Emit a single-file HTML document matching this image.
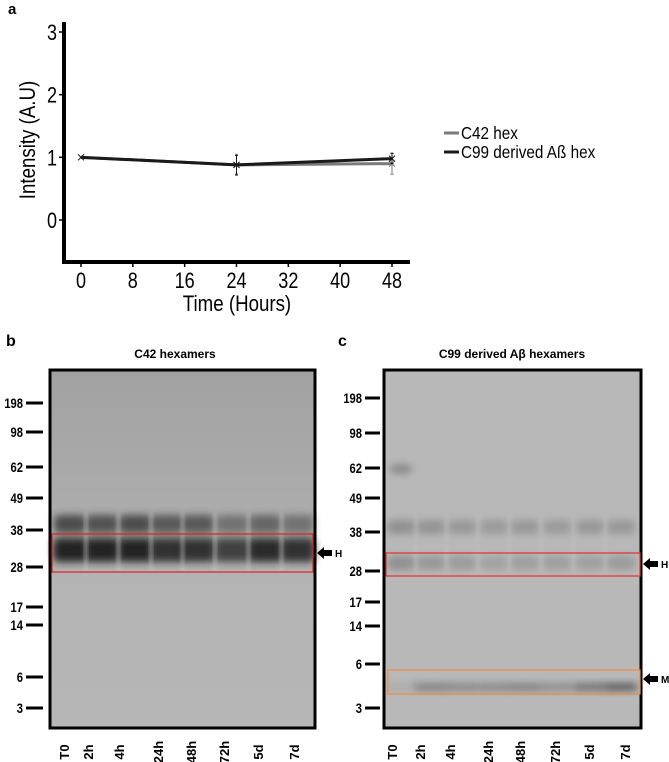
<!DOCTYPE html>
<html><head><meta charset="utf-8">
<style>
html,body{margin:0;padding:0;background:#fff;}
svg{display:block;font-family:"Liberation Sans",sans-serif;}
.b{font-weight:bold;}
</style></head>
<body>
<svg id="fig" width="669" height="762" viewBox="0 0 669 762">
<defs>
<filter id="blur3" x="-30%" y="-80%" width="160%" height="260%"><feGaussianBlur stdDeviation="4"/></filter>
<filter id="blur2" x="-50%" y="-50%" width="200%" height="200%"><feGaussianBlur stdDeviation="2"/></filter>
<linearGradient id="topg" x1="0" y1="0" x2="0" y2="1">
<stop offset="0" stop-color="#a2a2a2"/><stop offset="0.4" stop-color="#acacac"/><stop offset="0.6" stop-color="#b4b4b4"/><stop offset="1" stop-color="#b6b6b6"/>
</linearGradient>
</defs>
<text x="8" y="14" class="b" font-size="15">a</text>
<g id="chart"></g>
<text x="6" y="346" class="b" font-size="16">b</text>
<text x="175" y="358" class="b" font-size="12" text-anchor="middle">C42 hexamers</text>
<g id="blotb"></g>
<text x="338" y="346" class="b" font-size="16">c</text>
<text x="512" y="358" class="b" font-size="12" text-anchor="middle">C99 derived Aβ hexamers</text>
<g id="blotc"></g>
</svg>
<script>
const NS="http://www.w3.org/2000/svg";
function mk(p,tag,at,txt){const e=document.createElementNS(NS,tag);for(const k in at)e.setAttribute(k,at[k]);if(txt!==undefined)e.textContent=txt;p.appendChild(e);return e;}

// ---- chart data ----
const times=[0,24,48];
const c42Values=[1,0.88,0.9];
const c42Err=[0,0.17,0.17];
const c99Values=[1,0.88,0.98];
const c99Err=[0,0.15,0.08];
const xTicks=[0,8,16,24,32,40,48];
const yTicks=[0,1,2,3];

const xS=v=>81+(392-81)*v/48;
const yS=v=>220-(220-32)*v/3;
const g=document.getElementById('chart');
let e;
e=mk(g,'line',{x1:64,y1:22,x2:64,y2:264,stroke:'#000','stroke-width':4});


e=mk(g,'line',{x1:62,y1:262,x2:410,y2:262,stroke:'#000','stroke-width':4});


yTicks.forEach(t=>{
 mk(g,'line',{x1:59,y1:yS(t),x2:64,y2:yS(t),stroke:'#000','stroke-width':1.5});
 e=mk(g,'text',{x:57,y:yS(t)+8,'font-size':22,'text-anchor':'end',transform:`translate(57 0) scale(0.82 1) translate(-57 0)`},String(t));
 
 
});
xTicks.forEach(t=>{
 mk(g,'line',{x1:xS(t),y1:262,x2:xS(t),y2:267,stroke:'#000','stroke-width':1.5});
 e=mk(g,'text',{x:xS(t),y:288,'font-size':22,'text-anchor':'middle',transform:`translate(${xS(t)} 0) scale(0.82 1) translate(${-xS(t)} 0)`},String(t));
 
 
});
e=mk(g,'text',{x:237,y:311,'font-size':22,'text-anchor':'middle',transform:'translate(237 0) scale(0.85 1) translate(-237 0)'},'Time (Hours)');


e=mk(g,'text',{x:0,y:0,'font-size':22,'text-anchor':'middle',transform:'translate(35 140) rotate(-90) scale(0.85 1)'},'Intensity (A.U)');



function series(vals,errs,col,w,name){
 const pts=times.map((t,i)=>xS(t)+','+yS(vals[i])).join(' ');
 e=mk(g,'polyline',{points:pts,fill:'none',stroke:col,'stroke-width':w});
 
 
 times.forEach((t,i)=>{
  const x=xS(t),y=yS(vals[i]);
  if(errs[i]>0){
   mk(g,'line',{x1:x,y1:yS(vals[i]+errs[i]),x2:x,y2:yS(vals[i]-errs[i]),stroke:col,'stroke-width':1});
   mk(g,'line',{x1:x-1.5,y1:yS(vals[i]+errs[i]),x2:x+1.5,y2:yS(vals[i]+errs[i]),stroke:col,'stroke-width':1});
   mk(g,'line',{x1:x-1.5,y1:yS(vals[i]-errs[i]),x2:x+1.5,y2:yS(vals[i]-errs[i]),stroke:col,'stroke-width':1});
  }
  e=mk(g,'path',{d:`M${x-3} ${y-3}L${x+3} ${y+3}M${x-3} ${y+3}L${x+3} ${y-3}`,stroke:col,'stroke-width':1});
  
  
 });
}
series(c42Values,c42Err,'#7a7a7a',3,'c42');
series(c99Values,c99Err,'#1a1a1a',3,'c99');
mk(g,'line',{x1:444,y1:133,x2:459,y2:133,stroke:'#7a7a7a','stroke-width':3});
e=mk(g,'text',{x:461,y:139,'font-size':18,transform:'translate(461 0) scale(0.85 1) translate(-461 0)'},'C42 hex');


mk(g,'line',{x1:444,y1:152,x2:459,y2:152,stroke:'#1a1a1a','stroke-width':3});
e=mk(g,'text',{x:461,y:158,'font-size':18,transform:'translate(461 0) scale(0.85 1) translate(-461 0)'},'C99 derived Aß hex');



// ---- blots ----
const laneNames=['T0','2h','4h','24h','48h','72h','5d','7d'];
const markers=['198','98','62','49','38','28','17','14','6','3'];
function blot(id,cfg){
 const p=document.getElementById(id);
 e=mk(p,'rect',{x:cfg.x0,y:370,width:cfg.x1-cfg.x0,height:358,fill:cfg.bg});
 
 
 cfg.bands.forEach(b=>{
  cfg.lanes.forEach((lx,i)=>{
   const op=b.op[i];
   if(op<=0)return;
   e=mk(p,'rect',{x:lx-b.w/2,y:b.y-b.h/2,width:b.w,height:b.h,rx:5,fill:b.col,opacity:op,filter:'url(#blur3)'});
   
   
  });
 });
 cfg.lanes.forEach((lx,i)=>{
  if(i>0){const gx=(lx+cfg.lanes[i-1])/2;mk(p,'rect',{x:gx-1.5,y:cfg.gy0,width:3,height:cfg.gy1-cfg.gy0,fill:cfg.gap,opacity:.6,filter:'url(#blur2)'});}
 });
 e=mk(p,'rect',{x:cfg.x0,y:370,width:cfg.x1-cfg.x0,height:358,fill:'none',stroke:'#000','stroke-width':3});
 cfg.boxes.forEach(bx=>{
  e=mk(p,'rect',{x:bx.x0,y:bx.y0,width:bx.x1-bx.x0,height:bx.y1-bx.y0,fill:'none',stroke:bx.col,'stroke-width':1.2});
  
  
  mk(p,'path',{d:`M${cfg.x1+2} ${bx.ay}l7 -6v3h8v6h-8v3z`,fill:'#000'});
  e=mk(p,'text',{x:cfg.x1+20,y:bx.ay+4,'font-size':10,class:'b'},bx.lab);
  
  
 });
 markers.forEach((m,i)=>{
  const y=cfg.my[i];
  mk(p,'rect',{x:cfg.t0,y:y-1.5,width:cfg.t1-cfg.t0,height:3,fill:'#000'});
  e=mk(p,'text',{x:cfg.t0-3,y:y+5,'font-size':14,class:'b','text-anchor':'end',transform:`translate(${cfg.t0-3} 0) scale(0.8 1) translate(${-(cfg.t0-3)} 0)`},m);
  
  
 });
 laneNames.forEach((n,i)=>{
  e=mk(p,'text',{x:0,y:0,'font-size':13,class:'b','text-anchor':'middle',transform:`translate(${cfg.ll[i]+5} 752) rotate(-90)`},n);
  
  
 });
}
blot('blotb',{x0:50,x1:315,bg:'url(#topg)',gap:'#c4c4c4',gy0:512,gy1:572,
 lanes:[70,102,135,167,198,232,265,298],
 bands:[{y:524,h:18,w:32,col:'#2a2a2a',op:[.75,.7,.75,.65,.65,.45,.55,.45]},
        {y:550,h:24,w:34,col:'#1a1a1a',op:[.95,.95,.95,.85,.85,.75,.9,.85]}],
 boxes:[{x0:52,x1:313,y0:534,y1:572,col:'#e02020',ay:553,lab:'H'}],
 my:[403,432,467,498,530,567,607,625,677,708],t0:26,t1:43,
 ll:[64,88,119,158,191,224,258,294]});
blot('blotc',{x0:384,x1:641,bg:'#b8b8b8',gap:'#c0c0c0',gy0:515,gy1:572,
 lanes:[401,431,462,494,525,557,590,621],
 bands:[{y:527,h:14,w:28,col:'#707070',op:[.55,.5,.45,.4,.45,.4,.45,.45]},
        {y:563,h:14,w:28,col:'#707070',op:[.55,.45,.4,.3,.35,.35,.35,.4]},
        {y:469,h:9,w:22,col:'#606060',op:[.55,0,0,0,0,0,0,0]},
        {y:687,h:7,w:34,col:'#404040',op:[.1,.5,.45,.45,.5,.4,.65,.85]}],
 boxes:[{x0:386,x1:640,y0:553,y1:576,col:'#e03030',ay:564,lab:'H'},
        {x0:388,x1:640,y0:670,y1:694,col:'#f08a40',ay:679,lab:'M'}],
 my:[398,433,468,498,532,571,602,626,664,708],t0:365,t1:380,
 ll:[392,420,450,488,520,555,589,625]});
</script>
</body></html>
